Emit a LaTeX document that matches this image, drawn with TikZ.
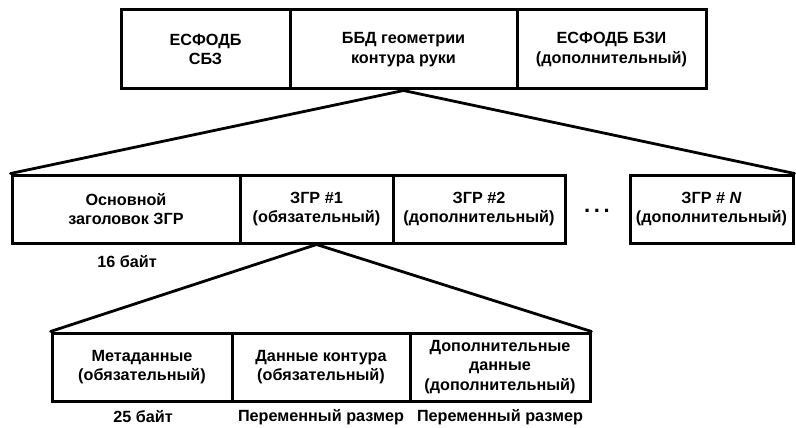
\documentclass[tikz,border=0pt]{standalone}
\usepackage{fontspec}
\setmainfont{Liberation Sans}
\newcommand{\cellfont}{\fontsize{16.2}{19.5}\selectfont\bfseries}
\begin{document}
\begin{tikzpicture}[x=1pt,y=-1pt,
  cell/.style={draw,line width=3pt,inner sep=0pt,align=center,font=\cellfont},
  link/.style={line width=2.8pt,line cap=round},
  lbl/.style={inner sep=0pt,font=\cellfont}]
\useasboundingbox (0,0) rectangle (796,428);
% top row
\node[cell,minimum width=169pt,minimum height=79pt] (t1) at (205.5,49.5) {ЕСФОДБ\\СБЗ};
\node[cell,minimum width=227pt,minimum height=79pt] (t2) at (403.5,49.5) {ББД геометрии\\контура руки};
\node[cell,minimum width=189pt,minimum height=79pt] (t3) at (611.5,49.5) {ЕСФОДБ БЗИ\\(дополнительный)};
% middle row
\node[cell,minimum width=228pt,minimum height=68pt] (m1) at (126,209) {Основной\\заголовок ЗГР};
\node[cell,minimum width=153pt,minimum height=68pt] (m2) at (316.5,209) {ЗГР \#1\\(обязательный)};
\node[cell,minimum width=172pt,minimum height=68pt] (m3) at (479,209) {ЗГР \#2\\(дополнительный)};
\node[lbl,font=\fontsize{22}{22}\selectfont\bfseries] (dots) at (597,211) {.\,.\,.};
\node[cell,minimum width=163pt,minimum height=68pt] (m4) at (711.5,209) {ЗГР \# \textit{N}\\(дополнительный)};
\node[lbl] (l16) at (127,262) {16 байт};
% bottom row
\node[cell,minimum width=180pt,minimum height=68pt] (b1) at (142,367) {Метаданные\\(обязательный)};
\node[cell,minimum width=178pt,minimum height=68pt] (b2) at (321,367) {Данные контура\\(обязательный)};
\node[cell,minimum width=180pt,minimum height=68pt] (b3) at (500,367) {Дополнительные\\данные\\(дополнительный)};
\node[lbl] (l25) at (143,417) {25 байт};
\node[lbl] (lv1) at (321,417) {Переменный размер};
\node[lbl] (lv2) at (500,417) {Переменный размер};
% connectors
\draw[link] (t2.south) -- (m1.north west);
\draw[link] (t2.south) -- (m4.north east);
\draw[link] (m2.south) -- (b1.north west);
\draw[link] (m2.south) -- (b3.north east);
\end{tikzpicture}
\end{document}
